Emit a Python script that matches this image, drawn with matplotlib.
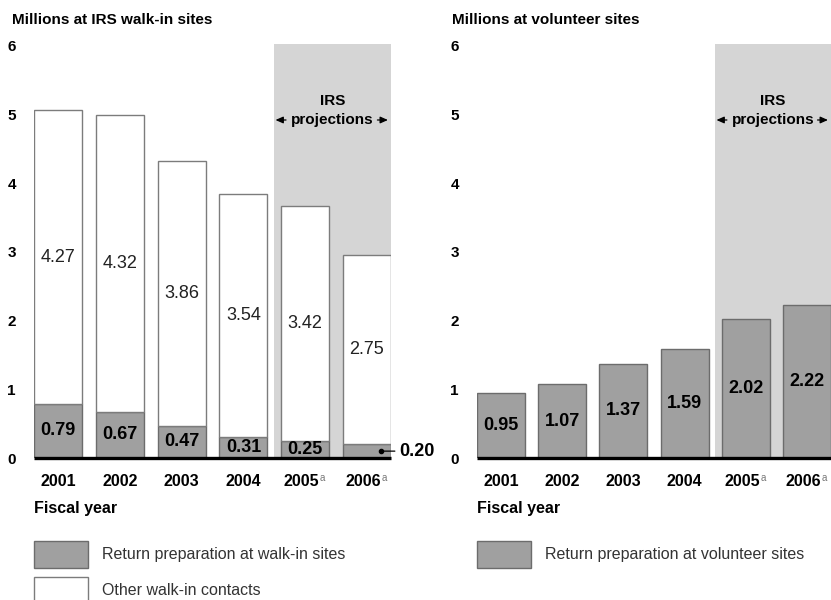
import matplotlib
matplotlib.use("Agg")
import matplotlib.pyplot as plt
from matplotlib.patches import Rectangle

plt.rcParams['font.family'] = ['Liberation Sans', 'DejaVu Sans']

# Data (millions)
years = ["2001", "2002", "2003", "2004", "2005", "2006"]
projected = [False, False, False, False, True, True]
walkin_return_prep = [0.79, 0.67, 0.47, 0.31, 0.25, 0.20]
walkin_other = [4.27, 4.32, 3.86, 3.54, 3.42, 2.75]
volunteer_return_prep = [0.95, 1.07, 1.37, 1.59, 2.02, 2.22]
yticks = [0, 1, 2, 3, 4, 5, 6]

DARK = "#a0a0a0"
DARK_EDGE = "#6c6c6c"
WHITE_EDGE = "#7c7c7c"
SHADE = "#d5d5d5"

W, H = 831, 600
fig = plt.figure(figsize=(W / 100, H / 100), dpi=100)
fig.patch.set_facecolor("white")


def px_axes(x0, x1, y_bottom, y_top):
    return fig.add_axes([x0 / W, 1 - y_bottom / H, (x1 - x0) / W, (y_bottom - y_top) / H])


BW = 0.78
XLIM = (-0.39, 5.39)
YMAX = 6.1
SHADE_START = 3.49


def style_axes(ax):
    ax.set_xlim(*XLIM)
    ax.set_ylim(0, YMAX)
    for s in ax.spines.values():
        s.set_visible(False)
    ax.set_xticks([])
    ax.set_yticks(yticks)
    ax.set_yticklabels([str(t) for t in yticks], fontsize=11, fontweight="bold")
    ax.tick_params(axis="y", length=0, pad=13)
    ax.set_facecolor("none")
    # projection shading
    ax.add_patch(Rectangle((SHADE_START, 0), XLIM[1] - SHADE_START, 6.03,
                           facecolor=SHADE, edgecolor="none", zorder=0, clip_on=False))
    # baseline
    ax.plot([XLIM[0], XLIM[1]], [0, 0], color="black", lw=2.4, zorder=5,
            solid_capstyle="butt", clip_on=False)
    # year labels
    for i, y in enumerate(years):
        shift = -2.5 if projected[i] else 0
        ax.annotate(y, (i, 0), xytext=(shift, -17), textcoords="offset points",
                    ha="center", va="center", fontsize=11.5, fontweight="bold",
                    annotation_clip=False)
        if projected[i]:
            ax.annotate("a", (i, 0), xytext=(shift + 13, -14.5), textcoords="offset points",
                        ha="left", va="center", fontsize=7, color="#777777",
                        annotation_clip=False)
    ax.annotate("Fiscal year", (XLIM[0], 0), xytext=(0, -36), textcoords="offset points",
                ha="left", va="center", fontsize=11.5, fontweight="bold",
                annotation_clip=False)
    # projections label
    cx = (SHADE_START + XLIM[1]) / 2
    ax.text(cx, 5.2, "IRS", ha="center", va="center", fontsize=11, fontweight="bold")
    ax.text(cx, 4.92, "projections", ha="center", va="center", fontsize=11, fontweight="bold")
    arrow = dict(arrowstyle="-|>,head_length=0.45,head_width=0.2", color="black", lw=0.9,
                 shrinkA=0, shrinkB=0)
    ax.annotate("", xy=(SHADE_START + 0.03, 4.92), xytext=(SHADE_START + 0.2, 4.92),
                arrowprops=arrow)
    ax.annotate("", xy=(XLIM[1] - 0.05, 4.92), xytext=(XLIM[1] - 0.22, 4.92),
                arrowprops=arrow, annotation_clip=False)


x = list(range(len(years)))

# ---- Left panel: IRS walk-in sites ----
ax1 = px_axes(34, 391, 458, 458 - YMAX * 68.7)
style_axes(ax1)
ax1.bar(x, walkin_return_prep, width=BW, color=DARK, edgecolor=DARK_EDGE, lw=1.0, zorder=2)
ax1.bar(x, walkin_other, width=BW, bottom=walkin_return_prep, color="white",
        edgecolor=WHITE_EDGE, lw=1.0, zorder=2)
for i in x:
    ax1.text(i, walkin_other[i] / 2 + walkin_return_prep[i], f"{walkin_other[i]:.2f}",
             ha="center", va="center", fontsize=13, color="#222222", zorder=3)
    if i < len(x) - 1:
        ax1.text(i, walkin_return_prep[i] / 2, f"{walkin_return_prep[i]:.2f}",
                 ha="center", va="center", fontsize=13, fontweight="bold", zorder=3)
last = len(x) - 1
ax1.plot([last + 0.22], [walkin_return_prep[last] / 2], "o", color="black", ms=3, zorder=4)
ax1.annotate(f"{walkin_return_prep[last]:.2f}", (last + 0.24, walkin_return_prep[last] / 2),
             xytext=(last + 0.52, walkin_return_prep[last] / 2), ha="left", va="center",
             fontsize=13, fontweight="bold", annotation_clip=False,
             arrowprops=dict(arrowstyle="-", color="black", lw=0.9, shrinkA=1, shrinkB=0))
fig.text(12 / W, 1 - 20 / H, "Millions at IRS walk-in sites", ha="left", va="center",
         fontsize=11, fontweight="bold")

# ---- Right panel: volunteer sites ----
ax2 = px_axes(477, 831, 458, 458 - YMAX * 68.7)
style_axes(ax2)
ax2.bar(x, volunteer_return_prep, width=BW, color=DARK, edgecolor=DARK_EDGE, lw=1.0, zorder=2)
for i in x:
    ax2.text(i, volunteer_return_prep[i] / 2, f"{volunteer_return_prep[i]:.2f}",
             ha="center", va="center", fontsize=13, fontweight="bold", zorder=3)
fig.text(452 / W, 1 - 20 / H, "Millions at volunteer sites", ha="left", va="center",
         fontsize=11, fontweight="bold")

# ---- Legends ----
def legend_box(x0, y_top, y_bot, face, label):
    fig.patches.append(Rectangle((x0 / W, 1 - y_bot / H), 54 / W, (y_bot - y_top) / H,
                                 transform=fig.transFigure, facecolor=face,
                                 edgecolor=DARK_EDGE if face == DARK else WHITE_EDGE,
                                 lw=1.0))
    fig.text((x0 + 68) / W, 1 - ((y_top + y_bot) / 2) / H, label, ha="left", va="center",
             fontsize=11.5, color="#333333")


legend_box(34, 541, 568, DARK, "Return preparation at walk-in sites")
legend_box(34, 577, 604, "white", "Other walk-in contacts")
legend_box(477, 541, 568, DARK, "Return preparation at volunteer sites")

fig.savefig("out.png", dpi=100, facecolor="white")
